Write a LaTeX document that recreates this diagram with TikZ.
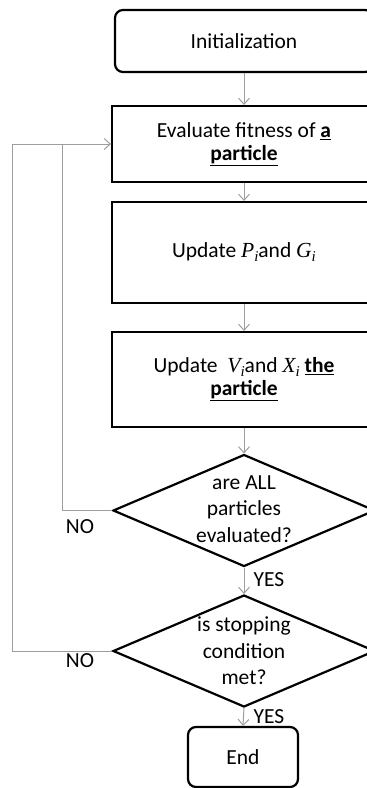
\documentclass[tikz,border=0pt]{standalone}
\usepackage{fontspec}
\setmainfont{Carlito}
\newfontfamily\mserif{Liberation Serif}
\newcommand{\mvar}[2]{{\mserif\itshape #1}\raisebox{-4pt}{\mserif\itshape\fontsize{15}{15}\selectfont #2}}
\usetikzlibrary{shapes.geometric,arrows.meta}
\begin{document}
\begin{tikzpicture}[x=1pt,y=-1pt,
  every node/.style={font=\fontsize{21.5}{24}\selectfont, text=black},
  procbox/.style={draw=black, line width=2.2pt, rectangle, minimum width=264pt, inner sep=0pt},
  termbox/.style={draw=black, line width=2.2pt, rectangle, rounded corners=8pt, inner sep=0pt},
  decbox/.style={draw=black, line width=2.2pt, diamond, minimum width=262pt, minimum height=112pt, inner sep=0pt},
  dectext/.style={align=center, font=\fontsize{21.5}{26.5}\selectfont, inner sep=0pt},
  conn/.style={draw=black!38, line width=1pt, -{Straight Barb[length=6pt,width=11pt,line width=1pt]}},
  plainconn/.style={draw=black!38, line width=1pt},
  lbl/.style={inner sep=0pt}
]
\useasboundingbox (0,0) rectangle (367,788);
\clip (0,0) rectangle (367,788);

\node[termbox, minimum width=258pt, minimum height=62pt] (init) at (244,41) {Initialization};
\node[procbox, minimum height=76pt, align=center] (eval) at (244,144) {Evaluate fitness of \underline{\textbf{a}}\\[-1pt]\underline{\textbf{particle}}};
\node[procbox, minimum height=101pt] (upg) at (244,252.5) {Update \mvar{P}{i}and \mvar{G}{i}};
\node[procbox, minimum height=95pt, align=center] (upv) at (244,379.5) {Update \ \mvar{V}{i}and \mvar{X}{i} \underline{\textbf{the}}\\[-1pt]\underline{\textbf{particle}}};
\node[decbox] (d1) at (244,510.5) {};
\node[dectext] (d1t) at (244,509) {are ALL\\particles\\evaluated?};
\node[decbox] (d2) at (244,651) {};
\node[dectext] (d2t) at (244,651) {is stopping\\condition\\met?};
\node[termbox, minimum width=110pt, minimum height=60pt] (endn) at (243,757) {End};

\node[lbl] (no1) at (80,527) {NO};
\node[lbl] (no2) at (80,661) {NO};
\node[lbl] (yes1) at (269,580) {YES};
\node[lbl] (yes2) at (269,717) {YES};

\coordinate (lo) at (12,144);
\coordinate (li) at (62,144);

\draw[conn] (init.south) -- (eval.north);
\draw[conn] (eval.south) -- (upg.north);
\draw[conn] (upg.south) -- (upv.north);
\draw[conn] (upv.south) -- (d1.north);
\draw[conn] (d1.south) -- (d2.north);
\draw[conn] (d2.south) -- (endn.north);
\draw[conn] (d2.west) -| (lo) -- (eval.west);
\draw[plainconn] (d1.west) -| (li);
\end{tikzpicture}
\end{document}
